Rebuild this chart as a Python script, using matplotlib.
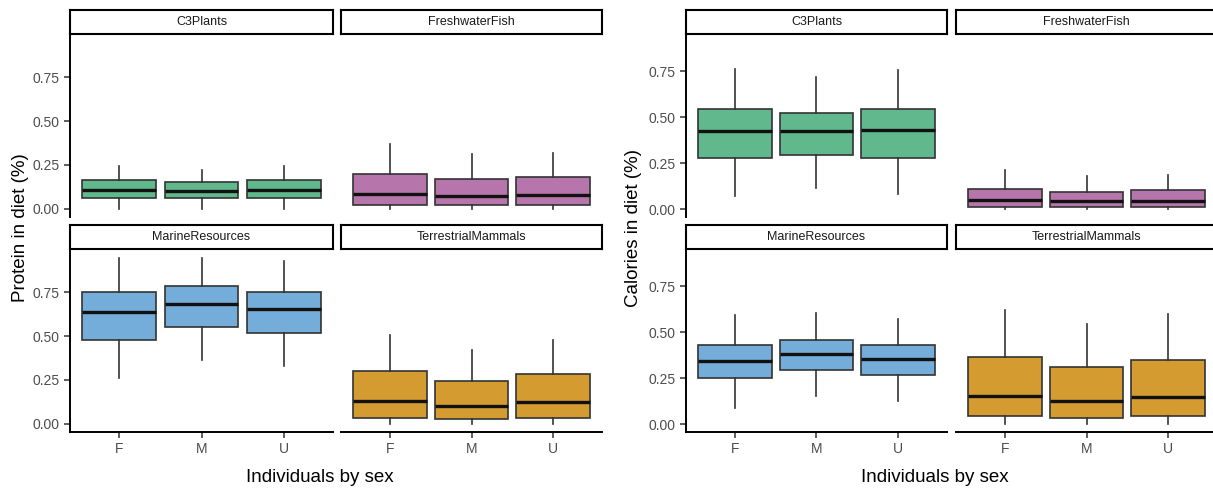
import matplotlib.pyplot as plt

plt.rcParams['font.family'] = ['Liberation Sans', 'DejaVu Sans']

sexes = ["F", "M", "U"]
groups = ["C3Plants", "FreshwaterFish", "MarineResources", "TerrestrialMammals"]
colors = ["#60B88C", "#B676AB", "#74ACDA", "#D39B30"]

# [whisker low, q1, median, q3, whisker high] for F, M, U
protein_c3 = [[0.0, 0.060, 0.108, 0.162, 0.246],
              [0.0, 0.060, 0.102, 0.151, 0.221],
              [0.0, 0.060, 0.104, 0.162, 0.246]]
protein_fish = [[0.0, 0.021, 0.085, 0.200, 0.368],
                [0.0, 0.021, 0.070, 0.168, 0.312],
                [0.0, 0.021, 0.076, 0.179, 0.317]]
protein_marine = [[0.262, 0.478, 0.636, 0.754, 0.944],
                  [0.361, 0.551, 0.683, 0.784, 0.944],
                  [0.328, 0.520, 0.653, 0.754, 0.927]]
protein_mammals = [[0.0, 0.034, 0.127, 0.298, 0.509],
                   [0.0, 0.025, 0.103, 0.245, 0.423],
                   [0.0, 0.034, 0.122, 0.281, 0.480]]

calories_c3 = [[0.070, 0.277, 0.425, 0.542, 0.761],
               [0.116, 0.295, 0.425, 0.524, 0.716],
               [0.080, 0.278, 0.427, 0.542, 0.757]]
calories_fish = [[0.0, 0.013, 0.049, 0.110, 0.210],
                 [0.0, 0.013, 0.042, 0.094, 0.181],
                 [0.0, 0.013, 0.045, 0.101, 0.184]]
calories_marine = [[0.089, 0.248, 0.345, 0.428, 0.595],
                   [0.154, 0.293, 0.380, 0.459, 0.602],
                   [0.125, 0.264, 0.351, 0.430, 0.571]]
calories_mammals = [[0.0, 0.043, 0.155, 0.365, 0.618],
                    [0.0, 0.034, 0.127, 0.311, 0.542],
                    [0.0, 0.043, 0.148, 0.349, 0.598]]

yticks = [0.0, 0.25, 0.5, 0.75]

W, H = 1213, 492
fig = plt.figure(figsize=(W / 100, H / 100), dpi=100)


def px_axes(x0, y0, x1, y1):
    return fig.add_axes([x0 / W, 1 - y1 / H, (x1 - x0) / W, (y1 - y0) / H])


def draw_chart(cols, data, ylim, ylabel, ylab_x, xlab_x):
    rows = [(10, 34, 217), (225, 249, 432)]
    for k, vals in enumerate(data):
        r, c = divmod(k, 2)
        top, sb, bot = rows[r]
        x0, x1 = cols[c]

        ax = px_axes(x0, sb, x1, bot)
        stats = [dict(whislo=v[0], q1=v[1], med=v[2], q3=v[3], whishi=v[4],
                      fliers=[], label=s) for v, s in zip(vals, sexes)]
        ax.bxp(stats, positions=[1, 2, 3], widths=0.9, patch_artist=True,
               showcaps=False, showfliers=False,
               boxprops=dict(facecolor=colors[k], edgecolor='#333333', linewidth=1.2),
               medianprops=dict(color='#111111', linewidth=2.4),
               whiskerprops=dict(color='#333333', linewidth=1.2))
        ax.set_xlim(0.4, 3.6)
        ax.set_ylim(*ylim)
        ax.spines['top'].set_visible(False)
        ax.spines['right'].set_visible(False)
        ax.spines['left'].set_visible(c == 0)
        ax.spines['bottom'].set_visible(r == 1)
        for s in ('left', 'bottom'):
            ax.spines[s].set_linewidth(1.4)
            ax.spines[s].set_color('black')
        ax.tick_params(length=4, width=1.1, color='#333333', labelsize=10,
                       labelcolor='#4d4d4d')
        ax.set_xticks([1, 2, 3])
        if r == 1:
            ax.set_xticklabels(sexes)
        else:
            ax.tick_params(axis='x', bottom=False, labelbottom=False)
        ax.set_yticks(yticks)
        if c == 0:
            ax.set_yticklabels([f"{t:.2f}" for t in yticks])
        else:
            ax.tick_params(axis='y', left=False, labelleft=False)

        # strip (drawn after the panel so its border stays whole)
        sa = px_axes(x0, top, x1, sb)
        sa.set_xticks([])
        sa.set_yticks([])
        for s in sa.spines.values():
            s.set_linewidth(1.5)
            s.set_color('black')
        sa.text(0.5, 0.5, groups[k], ha='center', va='center', fontsize=9,
                color='#1a1a1a', transform=sa.transAxes)

    fig.text(ylab_x / W, 1 - 228 / H, ylabel, rotation=90, ha='center',
             va='center', fontsize=13.5, color='black')
    fig.text(xlab_x / W, 1 - 477 / H, "Individuals by sex", ha='center',
             va='center', fontsize=13.5, color='black')


draw_chart([(70, 333), (341, 602)],
           [protein_c3, protein_fish, protein_marine, protein_mammals],
           (-0.0475, 0.9975), "Protein in diet (%)", 21, 320)
draw_chart([(686, 947), (956, 1217)],
           [calories_c3, calories_fish, calories_marine, calories_mammals],
           (-0.043, 0.951), "Calories in diet (%)", 634, 935)

fig.savefig("out.png", dpi=100)
